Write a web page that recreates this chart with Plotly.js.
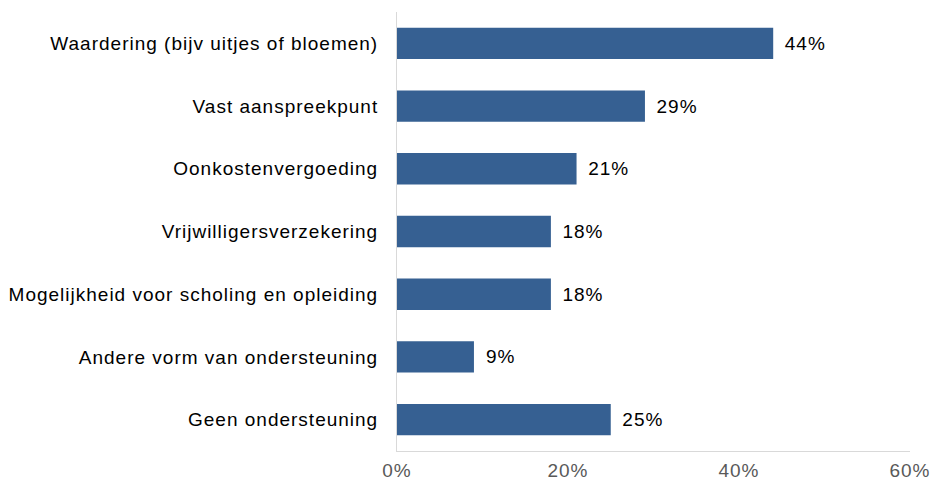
<!DOCTYPE html>
<html>
<head>
<meta charset="utf-8">
<script src="https://cdn.plot.ly/plotly-3.0.1.min.js"></script>
<style>
html,body{margin:0;padding:0;background:#fff;}
#chart{width:935px;height:484px;}
#chart svg text{letter-spacing:1px;}
</style>
</head>
<body>
<div id="chart"></div>
<script>
const categories = [
  "Waardering (bijv uitjes of bloemen)",
  "Vast aanspreekpunt",
  "Oonkostenvergoeding",
  "Vrijwilligersverzekering",
  "Mogelijkheid voor scholing en opleiding",
  "Andere vorm van ondersteuning",
  "Geen ondersteuning"
];
const values = [44, 29, 21, 18, 18, 9, 25];
const tickValues = [0, 20, 40, 60];
const tickLabels = ["0%", "20%", "40%", "60%"];

const FONT = "Liberation Sans, Arial, sans-serif";

Plotly.newPlot("chart", [{
  type: "bar",
  orientation: "h",
  y: categories,
  x: values,
  text: values.map(v => "\u00A0\u2009" + v + "%"),
  textposition: "outside",
  textfont: {family: FONT, size: 19, color: "#000000"},
  cliponaxis: false,
  marker: {color: "#366092"},
  width: 0.5,
  hoverinfo: "none"
}], {
  width: 935,
  height: 484,
  margin: {l: 397, r: 25, t: 12, b: 33},
  paper_bgcolor: "#ffffff",
  plot_bgcolor: "#ffffff",
  showlegend: false,
  xaxis: {
    range: [0, 60],
    tickvals: tickValues,
    ticktext: tickLabels,
    showgrid: false,
    zeroline: false,
    showline: true,
    linecolor: "#d9d9d9",
    linewidth: 1,
    ticks: "",
    tickfont: {family: FONT, size: 19, color: "#595959"},
    ticklabelstandoff: 2,
    fixedrange: true
  },
  yaxis: {
    autorange: "reversed",
    showgrid: false,
    zeroline: false,
    showline: true,
    linecolor: "#d9d9d9",
    linewidth: 1,
    ticks: "",
    tickfont: {family: FONT, size: 19, color: "#000000"},
    ticklabelstandoff: 14,
    fixedrange: true
  }
}, {displayModeBar: false, staticPlot: true});
</script>
</body>
</html>
